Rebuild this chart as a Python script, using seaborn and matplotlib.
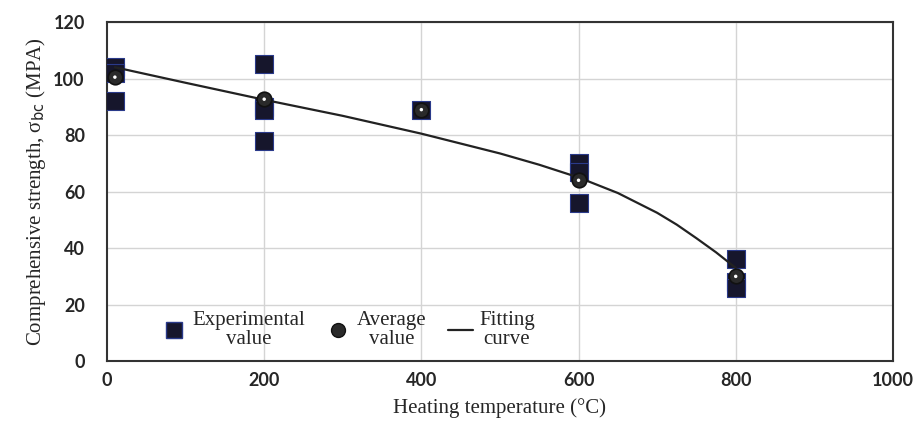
import matplotlib
matplotlib.use("Agg")
import matplotlib.pyplot as plt
import seaborn as sns
import pandas as pd
from matplotlib.lines import Line2D

# Data
exp_temp = [10, 10, 10, 200, 200, 200, 200, 400, 600, 600, 600, 800, 800, 800]
exp_strength = [104, 102, 92, 105, 90, 89, 78, 89, 70, 67, 56, 36, 28, 26]
avg_temp = [10, 200, 400, 600, 800]
avg_strength = [100.5, 92.7, 89, 64, 30]
fit_temp = [10, 100, 200, 300, 400, 500, 550, 600, 650, 700, 725, 750, 775, 800]
fit_strength = [104, 98.5, 92.5, 86.8, 80.5, 73.5, 69.5, 65, 59.5, 52.5, 48.3, 43.5, 38.5, 33]

x_ticks = [0, 200, 400, 600, 800, 1000]
y_ticks = [0, 20, 40, 60, 80, 100, 120]

sns.set_theme(style="white")
plt.rcParams['font.family'] = ['Liberation Serif', 'DejaVu Serif']

fig = plt.figure(figsize=(9.17, 4.32), dpi=100)
ax = fig.add_axes([0.1167, 0.164, 0.857, 0.785])

exp_df = pd.DataFrame({"t": exp_temp, "s": exp_strength})
avg_df = pd.DataFrame({"t": avg_temp, "s": avg_strength})
fit_df = pd.DataFrame({"t": fit_temp, "s": fit_strength})

for y in y_ticks[1:]:
    ax.axhline(y, color="#d4d4d4", lw=1, zorder=0)
for x in x_ticks[1:-1]:
    ax.axvline(x, color="#d4d4d4", lw=1, zorder=0)

sns.scatterplot(data=exp_df, x="t", y="s", ax=ax, marker="s", s=150,
                color="#16162c", edgecolor="#2a3a8a", linewidth=0.8, zorder=3, legend=False)
sns.lineplot(data=fit_df, x="t", y="s", ax=ax, color="#222222", lw=1.6, zorder=4, legend=False)
sns.scatterplot(data=avg_df, x="t", y="s", ax=ax, marker="o", s=110,
                color="#2a2a2a", edgecolor="#111111", linewidth=1.2, zorder=5, legend=False)
sns.scatterplot(data=avg_df, x="t", y="s", ax=ax, marker=".", s=25,
                color="white", edgecolor="none", zorder=6, legend=False)

ax.set_xlim(0, 1000)
ax.set_ylim(0, 120)
ax.set_xticks(x_ticks)
ax.set_yticks(y_ticks)
tick_font = dict(family=['Lato', 'DejaVu Sans'], weight='bold', size=13)
ax.set_xticklabels([str(v) for v in x_ticks], fontdict=tick_font)
ax.set_yticklabels([str(v) for v in y_ticks], fontdict=tick_font)
ax.tick_params(axis='x', direction='in', length=6, width=2.5, color='black', pad=8, top=False)
ax.tick_params(axis='y', length=0, pad=16)
for sp in ax.spines.values():
    sp.set_color('#333333')
    sp.set_linewidth(1.5)

ax.set_xlabel("Heating temperature (°C)", fontsize=15, labelpad=6)
ax.set_ylabel(r"Comprehensive strength, σ$_{\rm bc}$ (MPA)", fontsize=15, labelpad=4)

handles = [
    Line2D([], [], marker='s', ls='none', markersize=11, markerfacecolor='#16162c', markeredgecolor='#2a3a8a'),
    Line2D([], [], marker='o', ls='none', markersize=10, markerfacecolor='#2a2a2a', markeredgecolor='#111111'),
    Line2D([], [], color='#222222', lw=1.6),
]
labels = ["Experimental\nvalue", "Average\nvalue", "Fitting\ncurve"]
leg = ax.legend(handles, labels, loc='lower left', bbox_to_anchor=(0.045, -0.018), ncol=3,
                frameon=False, fontsize=15, handlelength=1.2, handletextpad=0.3,
                columnspacing=1.0, labelspacing=0.1)
for t in leg.get_texts():
    t.set_multialignment('center')
    t.set_linespacing(0.95)

fig.savefig("out.png", dpi=100)
